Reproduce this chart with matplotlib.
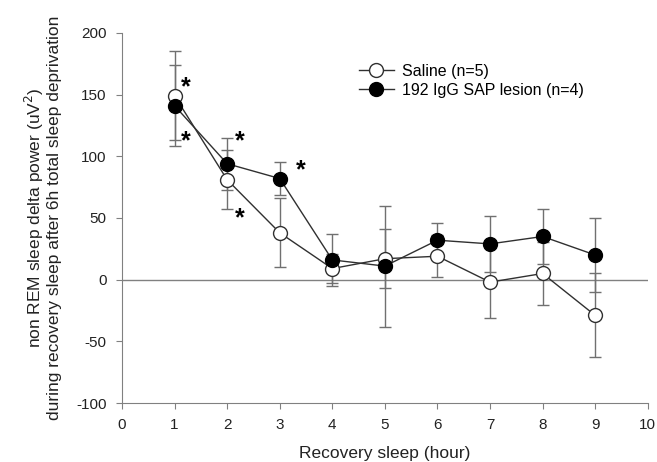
import matplotlib.pyplot as plt
import numpy as np

plt.rcParams['font.family'] = ['Liberation Sans', 'DejaVu Sans']
plt.rcParams['axes.unicode_minus'] = False

hours = [1, 2, 3, 4, 5, 6, 7, 8, 9]
saline = [149, 81, 38, 9, 17, 19, -2, 5, -29]
saline_err = [36, 24, 28, 12, 24, 17, 29, 25.5, 34]
lesion = [141, 94, 82, 16, 11, 32, 29, 35, 20]
lesion_err = [33, 21, 13, 21, 49, 14, 23, 22, 30]

# significance marks (x, y)
star_x = [1.22, 1.22, 2.24, 2.24, 3.40]
star_y = [156, 112, 112, 50, 89]

fig = plt.figure(figsize=(6.57, 4.62), dpi=100)
ax = fig.add_axes([0.1857, 0.1277, 0.8003, 0.8009])

ax.axhline(0, color='#808080', lw=1, zorder=1)

ax.errorbar(hours, saline, yerr=saline_err, fmt='none', ecolor='#707070',
            elinewidth=1, capsize=4, capthick=1, zorder=2)
ax.errorbar(hours, lesion, yerr=lesion_err, fmt='none', ecolor='#707070',
            elinewidth=1, capsize=4, capthick=1, zorder=2)
ax.plot(hours, saline, color='#303030', lw=1, marker='o', ms=10,
        mfc='white', mec='#303030', mew=1, zorder=3, label='Saline (n=5)')
ax.plot(hours, lesion, color='#303030', lw=1, marker='o', ms=10,
        mfc='black', mec='black', mew=1, zorder=4,
        label='192 IgG SAP lesion (n=4)')

for x, y in zip(star_x, star_y):
    ax.text(x, y, '*', fontsize=18, fontweight='bold', ha='center',
            va='center')

ax.set_xlim(0, 10)
ax.set_ylim(-100, 200)
ax.set_xticks(np.arange(0, 11, 1))
ax.set_yticks(np.arange(-100, 201, 50))

for s in ['top', 'right']:
    ax.spines[s].set_visible(False)
for s in ['left', 'bottom']:
    ax.spines[s].set_color('#808080')
ax.tick_params(direction='out', length=4, color='#808080', labelsize=11,
               labelcolor='#222222', pad=7)

ax.set_xlabel('Recovery sleep (hour)', fontsize=12.5, color='#222222',
              labelpad=10)
ax.set_ylabel('non REM sleep delta power (uV$^2$)\n'
              'during recovery sleep after 6h total sleep deprivation',
              fontsize=12.5, color='#222222', labelpad=10, linespacing=1.1)

leg = ax.legend(loc='upper left', bbox_to_anchor=(0.423, 0.955), frameon=False,
                fontsize=11.5, handlelength=2.2, handletextpad=0.5,
                labelspacing=0.25)

fig.savefig('out.png', dpi=100)
